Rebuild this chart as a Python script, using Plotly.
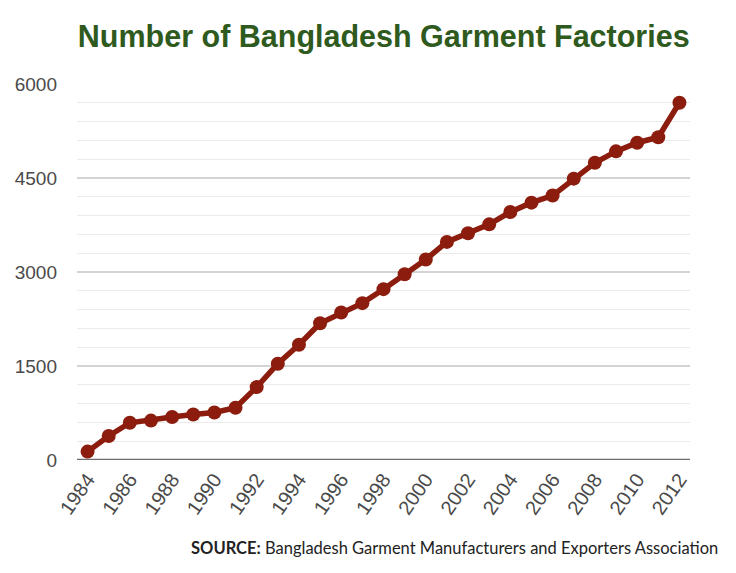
import plotly.graph_objects as go

years = list(range(1984, 2013))
factories = [134, 384, 594, 629, 685, 725, 759, 834, 1163, 1537, 1839, 2182, 2353,
             2503, 2726, 2963, 3200, 3480, 3618, 3760, 3957, 4107, 4220, 4490, 4743,
             4925, 5063, 5150, 5700]

title_text = "Number of Bangladesh Garment Factories"
source_text = "<b>SOURCE:</b> Bangladesh Garment Manufacturers and Exporters Association"

LINE_COLOR = "#8c1d0e"

fig = go.Figure()
fig.add_trace(go.Scatter(
    x=years, y=factories, mode="lines+markers",
    line=dict(color=LINE_COLOR, width=5.5),
    marker=dict(color=LINE_COLOR, size=14),
    showlegend=False, hoverinfo="x+y",
))

# page body adds an 8px offset; margins compensate so the plot area sits at x 77-690, y 84-460
fig.update_layout(
    width=736, height=573,
    margin=dict(l=69, r=54, t=76, b=121, autoexpand=False),
    paper_bgcolor="white", plot_bgcolor="white",
    title=dict(text="<b>" + title_text + "</b>", x=0.5105, xanchor="center",
               y=0.95, yanchor="middle", yref="container",
               font=dict(family="Liberation Sans, Arial", size=30.5, color="#2f5a1e")),
    xaxis=dict(range=[1983.5, 2012.5], tickmode="linear", tick0=1984, dtick=2,
               tickangle=-55, showgrid=False, zeroline=False, automargin=False,
               showline=False, ticks="", ticklabelstandoff=3,
               tickfont=dict(family="Liberation Sans, Arial", size=20, color="#4a4a4a")),
    yaxis=dict(range=[0, 6000], tickmode="array", tickvals=[0, 1500, 3000, 4500, 6000],
               showgrid=True, gridcolor="#d4d4d4", gridwidth=1.5, automargin=False,
               minor=dict(tickmode="linear", tick0=0, dtick=300, showgrid=True,
                          gridcolor="#ebebeb", gridwidth=1.2),
               zeroline=False, showline=False, ticks="",
               ticklabelstandoff=19,
               tickfont=dict(family="Liberation Sans, Arial", size=19, color="#4a4a4a")),
)

# baseline (axis line at zero)
fig.add_shape(type="line", xref="paper", yref="y", x0=0, x1=1, y0=0, y1=0,
              line=dict(color="#6e6e6e", width=2.5), layer="below")

fig.add_annotation(text=source_text, xref="paper", yref="paper",
                   x=(720 - 77) / 613, y=(460 - 548) / 376, xanchor="right", yanchor="middle",
                   showarrow=False,
                   font=dict(family="Lato, Noto Sans", size=16.5, color="#222222"))

fig.write_html("out.html")
